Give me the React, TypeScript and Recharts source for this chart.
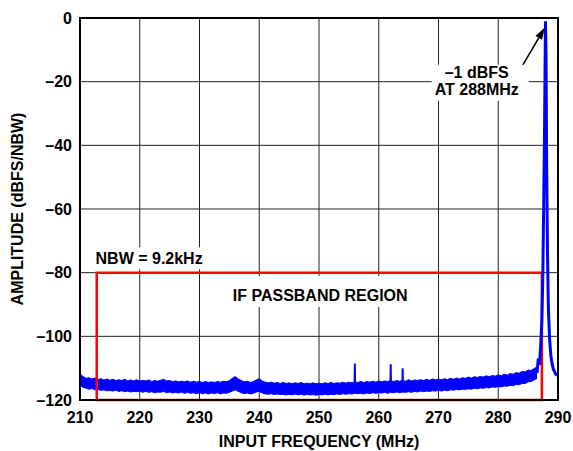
import React from 'react';
import {
  ComposedChart,
  Line,
  Area,
  XAxis,
  YAxis,
  CartesianGrid,
  ReferenceArea,
  ReferenceDot,
  ReferenceLine,
} from 'recharts';

const xTicks = [210, 220, 230, 240, 250, 260, 270, 280, 290];
const yTicks = [-120, -100, -80, -60, -40, -20, 0];

// Noise floor envelope [MHz, top dBFS, bottom dBFS]
const noiseBand: [number, number, number][] = [
  [210, -111.8, -115.5], [210.5, -112.6, -116.0], [211, -113.2, -116.3], [211.5, -113.0, -116.6],
  [212, -113.4, -116.4], [212.5, -113.1, -116.8], [213, -113.6, -116.7], [213.5, -113.3, -117.0],
  [214, -113.7, -116.8], [214.5, -113.4, -117.1], [215, -113.8, -117.0], [215.5, -113.5, -117.2],
  [216, -113.9, -116.9], [216.5, -113.6, -117.3], [217, -113.9, -117.1], [217.5, -113.5, -117.4],
  [218, -114.0, -117.2], [218.5, -113.7, -117.5], [219, -114.0, -117.3], [219.5, -113.6, -117.4],
  [220, -114.1, -117.2], [220.5, -113.8, -117.6], [221, -114.0, -117.3], [221.5, -113.7, -117.6],
  [222, -114.2, -117.4], [222.5, -113.9, -117.7], [223, -114.1, -117.5], [223.5, -113.8, -117.6],
  [224, -113.5, -117.3], [224.5, -114.0, -117.7], [225, -113.9, -117.5], [225.5, -114.2, -117.8],
  [226, -114.0, -117.6], [226.5, -114.3, -117.8], [227, -114.1, -117.5], [227.5, -114.3, -117.9],
  [228, -114.0, -117.6], [228.5, -114.4, -117.9], [229, -114.1, -117.7], [229.5, -114.4, -118.0],
  [230, -114.2, -117.7], [230.5, -114.5, -118.0], [231, -114.2, -117.8], [231.5, -114.5, -118.1],
  [232, -114.3, -117.8], [232.5, -114.5, -118.0], [233, -114.2, -117.7], [233.5, -114.4, -118.1],
  [234, -114.1, -117.8], [234.5, -114.3, -117.9], [235, -113.9, -117.6], [235.5, -113.2, -117.2],
  [236, -112.6, -116.8], [236.5, -113.4, -117.3], [237, -113.9, -117.7], [237.5, -114.3, -118.0],
  [238, -114.1, -117.8], [238.5, -114.5, -118.1], [239, -114.2, -117.9], [239.5, -113.7, -117.5],
  [240, -113.3, -117.3], [240.5, -114.0, -117.8], [241, -114.4, -118.1], [241.5, -114.6, -118.2],
  [242, -114.4, -118.0], [242.5, -114.7, -118.3], [243, -114.5, -118.1], [243.5, -114.8, -118.3],
  [244, -114.5, -118.2], [244.5, -114.8, -118.4], [245, -114.6, -118.2], [245.5, -114.9, -118.4],
  [246, -114.6, -118.1], [246.5, -114.8, -118.4], [247, -114.5, -118.2], [247.5, -114.9, -118.5],
  [248, -114.7, -118.2], [248.5, -114.9, -118.4], [249, -114.6, -118.3], [249.5, -114.9, -118.5],
  [250, -114.7, -118.3], [250.5, -114.9, -118.4], [251, -114.6, -118.2], [251.5, -114.8, -118.4],
  [252, -114.5, -118.2], [252.5, -114.8, -118.3], [253, -114.6, -118.1], [253.5, -114.7, -118.3],
  [254, -114.4, -118.0], [254.5, -114.7, -118.2], [255, -114.4, -118.0], [255.5, -114.6, -118.1],
  [256, -114.3, -117.9], [256.5, -114.5, -118.0], [257, -114.2, -117.9], [257.5, -114.5, -118.1],
  [258, -114.2, -117.8], [258.5, -114.4, -118.0], [259, -114.1, -117.7], [259.5, -114.4, -117.9],
  [260, -114.0, -117.7], [260.5, -114.3, -117.8], [261, -114.0, -117.6], [261.5, -114.2, -117.9],
  [262, -113.9, -117.6], [262.5, -114.2, -117.7], [263, -113.9, -117.5], [263.5, -114.1, -117.7],
  [264, -113.8, -117.5], [264.5, -114.1, -117.6], [265, -113.6, -117.4], [265.5, -114.0, -117.6],
  [266, -113.7, -117.3], [266.5, -113.9, -117.5], [267, -113.6, -117.2], [267.5, -113.9, -117.4],
  [268, -113.5, -117.2], [268.5, -113.8, -117.3], [269, -113.4, -117.1], [269.5, -113.7, -117.2],
  [270, -113.4, -117.0], [270.5, -113.6, -117.2], [271, -113.3, -116.9], [271.5, -113.6, -117.1],
  [272, -113.2, -116.8], [272.5, -113.5, -116.9], [273, -113.1, -116.7], [273.5, -113.4, -116.8],
  [274, -113.0, -116.6], [274.5, -113.2, -116.7], [275, -112.8, -116.5], [275.5, -113.1, -116.6],
  [276, -112.7, -116.3], [276.5, -112.9, -116.5], [277, -112.6, -116.2], [277.5, -112.8, -116.3],
  [278, -112.4, -116.1], [278.5, -112.7, -116.2], [279, -112.3, -115.9], [279.5, -112.5, -116.0],
  [280, -112.1, -115.8], [280.5, -112.4, -115.9], [281, -111.9, -115.6], [281.5, -112.2, -115.7],
  [282, -111.7, -115.4], [282.5, -111.9, -115.5], [283, -111.4, -115.1], [283.5, -111.6, -115.2],
  [284, -111.0, -114.8], [284.5, -111.2, -114.8], [285, -110.6, -114.3], [285.5, -110.7, -114.2],
  [286, -110.1, -113.7], [286.5, -109.6, -113.2],
];

// Spurious tones [MHz, dBFS] — each a narrow spike out of the floor
const spurTones: [number, number, number][] = [
  // [centre MHz, peak dBFS, floor dBFS]
  [256, -108.5, -116.0],
  [262, -108.8, -115.8],
  [264, -110.0, -115.6],
];

// Carrier at 288 MHz [MHz, dBFS]
const carrier: [number, number][] = [
  [286.5, -111.5], [286.7, -107.0], [286.9, -109.0], [287.1, -103.0], [287.3, -95.0],
  [287.45, -82.0], [287.6, -60.0], [287.75, -35.0], [287.9, -1.0], [288.0, -12.0],
  [288.1, -45.0], [288.25, -75.0], [288.4, -92.0], [288.6, -101.0], [288.8, -106.0],
  [289.0, -108.5], [289.2, -110.2], [289.4, -111.0], [289.6, -111.8], [289.8, -112.3],
];

const passband = { x1: 212.8, x2: 287.3, y1: -120, y2: -80 };
const annotationAt = { x: 276.4, y: -19.7 };
const arrowFrom = { x: 284.1, y: -14.8 };
const arrowTo = { x: 287.8, y: -3.0 };
const nbwAt = { x: 212.6, y: -75.5 };
const passbandLabelAt = { x: 250.2, y: -87.0 };

const bandData = noiseBand.map(([f, hi, lo]) => ({ f, band: [lo, hi] }));
const carrierData = carrier.map(([f, a]) => ({ f, a }));
const spurData = spurTones.map(([f, peak, floor]) => [
  { f: f - 0.05, a: floor },
  { f, a: peak },
  { f: f + 0.05, a: floor },
]);

const FONT = '"Liberation Sans", Arial, Helvetica, sans-serif';
const FS = 16;
const dash = (v: number) => String(v).replace('-', '\u2013');

const AnnotationShape = (props: any) => {
  const { cx, cy } = props;
  return (
    <g>
      <rect x={cx - 45} y={cy - 16} width={97} height={36} fill="#fff" />
      <text x={cx} y={cy - 3} textAnchor="middle" fontFamily={FONT} fontWeight="bold" fontSize={FS} fill="#000">
        {'\u20131 dBFS'}
      </text>
      <text x={cx} y={cy + 14} textAnchor="middle" fontFamily={FONT} fontWeight="bold" fontSize={FS} fill="#000">
        AT 288MHz
      </text>
    </g>
  );
};

const NbwShape = (props: any) => {
  const { cx, cy } = props;
  return (
    <g>
      <rect x={cx - 2} y={cy - 11} width={112} height={22} fill="#fff" />
      <text x={cx} y={cy + 5.7} textAnchor="start" fontFamily={FONT} fontWeight="bold" fontSize={FS} fill="#000">
        NBW = 9.2kHz
      </text>
    </g>
  );
};

const PassbandLabelShape = (props: any) => {
  const { cx, cy } = props;
  return (
    <g>
      <rect x={cx - 108} y={cy - 19} width={216} height={31} fill="#fff" />
      <text x={cx} y={cy + 5.7} textAnchor="middle" fontFamily={FONT} fontWeight="bold" fontSize={FS} fill="#000">
        IF PASSBAND REGION
      </text>
    </g>
  );
};

const ArrowShape = (props: any) => {
  const { x1, y1, x2, y2 } = props;
  const dx = x2 - x1;
  const dy = y2 - y1;
  const len = Math.sqrt(dx * dx + dy * dy) || 1;
  const ux = dx / len;
  const uy = dy / len;
  const hl = 12;
  const hw = 3.8;
  const bx = x2 - ux * hl;
  const by = y2 - uy * hl;
  return (
    <g>
      <line x1={x1} y1={y1} x2={bx} y2={by} stroke="#000" strokeWidth={1.6} />
      <polygon
        points={`${x2},${y2} ${bx - uy * hw},${by + ux * hw} ${bx + uy * hw},${by - ux * hw}`}
        fill="#000"
      />
    </g>
  );
};

export default function App() {
  return (
    <div style={{ position: 'absolute', left: 0, top: 0, width: 573, height: 451, background: '#fff' }}>
      <ComposedChart width={573} height={451} margin={{ top: 18, right: 15, bottom: 0, left: 0 }}>
        <CartesianGrid stroke="#222" strokeWidth={1} horizontalValues={yTicks} verticalValues={xTicks} />
        <XAxis
          dataKey="f"
          type="number"
          domain={[210, 290]}
          ticks={xTicks}
          height={51}
          axisLine={false}
          tickLine={false}
          tickMargin={6}
          allowDuplicatedCategory={false}
          tick={{ fontFamily: FONT, fontWeight: 'bold', fontSize: FS, fill: '#000' }}
          label={{
            value: 'INPUT FREQUENCY (MHz)',
            position: 'insideBottom',
            offset: 4.5,
            style: { fontFamily: FONT, fontWeight: 'bold', fontSize: FS, fill: '#000' },
          }}
        />
        <YAxis
          type="number"
          domain={[-120, 0]}
          ticks={yTicks}
          width={80}
          axisLine={false}
          tickLine={false}
          tickFormatter={dash}
          tick={{ fontFamily: FONT, fontWeight: 'bold', fontSize: FS, fill: '#000' }}
          label={{
            value: 'AMPLITUDE (dBFS/NBW)',
            angle: -90,
            position: 'insideLeft',
            offset: 17,
            style: { fontFamily: FONT, fontWeight: 'bold', fontSize: FS, fill: '#000', textAnchor: 'middle' },
          }}
        />
        <ReferenceDot x={nbwAt.x} y={nbwAt.y} r={0} shape={NbwShape} ifOverflow="visible" />
        <ReferenceDot x={passbandLabelAt.x} y={passbandLabelAt.y} r={0} shape={PassbandLabelShape} ifOverflow="visible" />
        <ReferenceDot x={annotationAt.x} y={annotationAt.y} r={0} shape={AnnotationShape} ifOverflow="visible" />
        <Area
          data={bandData}
          dataKey="band"
          type="linear"
          stroke="#0000ff"
          strokeWidth={1}
          fill="#0000ff"
          fillOpacity={1}
          dot={false}
          activeDot={false}
          isAnimationActive={false}
        />
        {spurData.map((d, i) => (
          <Line
            key={i}
            data={d}
            dataKey="a"
            type="linear"
            stroke="#0000ff"
            strokeWidth={2}
            dot={false}
            activeDot={false}
            isAnimationActive={false}
          />
        ))}
        <Line
          data={carrierData}
          dataKey="a"
          type="linear"
          stroke="#0000ff"
          strokeWidth={3}
          dot={false}
          activeDot={false}
          isAnimationActive={false}
        />
        <ReferenceArea
          x1={passband.x1}
          x2={passband.x2}
          y1={passband.y1}
          y2={passband.y2}
          fill="none"
          fillOpacity={0}
          stroke="#ff0000"
          strokeWidth={2.5}
          ifOverflow="visible"
        />
        <ReferenceArea
          x1={210}
          x2={290}
          y1={-120}
          y2={0}
          fill="none"
          fillOpacity={0}
          stroke="#000"
          strokeWidth={2}
          ifOverflow="visible"
        />
        <ReferenceLine segment={[arrowFrom, arrowTo]} shape={ArrowShape} ifOverflow="visible" />
      </ComposedChart>
    </div>
  );
}
